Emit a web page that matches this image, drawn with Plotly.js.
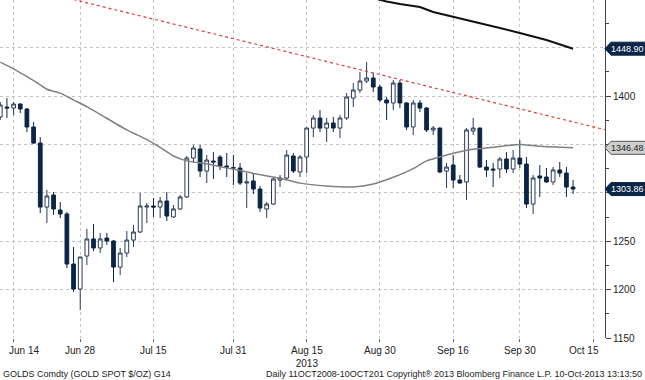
<!DOCTYPE html>
<html>
<head>
<meta charset="utf-8">
<script src="https://cdn.plot.ly/plotly-3.0.1.min.js"></script>
<style>html,body{margin:0;padding:0;background:#fff}#chart{width:645px;height:380px}</style>
</head>
<body>
<div id="chart"></div>
<script>
// ---- Data (GOLDS Comdty daily candles, Jun-Oct 2013) ----
const dates = ["2013-06-12","2013-06-13","2013-06-14","2013-06-17","2013-06-18","2013-06-19","2013-06-20","2013-06-21","2013-06-24","2013-06-25","2013-06-26","2013-06-27","2013-06-28",
"2013-07-01","2013-07-02","2013-07-03","2013-07-04","2013-07-05","2013-07-08","2013-07-09","2013-07-10","2013-07-11","2013-07-12","2013-07-15","2013-07-16","2013-07-17","2013-07-18","2013-07-19","2013-07-22","2013-07-23","2013-07-24","2013-07-25","2013-07-26","2013-07-29","2013-07-30","2013-07-31",
"2013-08-01","2013-08-02","2013-08-05","2013-08-06","2013-08-07","2013-08-08","2013-08-09","2013-08-12","2013-08-13","2013-08-14","2013-08-15","2013-08-16","2013-08-19","2013-08-20","2013-08-21","2013-08-22","2013-08-23","2013-08-26","2013-08-27","2013-08-28","2013-08-29","2013-08-30",
"2013-09-02","2013-09-03","2013-09-04","2013-09-05","2013-09-06","2013-09-09","2013-09-10","2013-09-11","2013-09-12","2013-09-13","2013-09-16","2013-09-17","2013-09-18","2013-09-19","2013-09-20","2013-09-23","2013-09-24","2013-09-25","2013-09-26","2013-09-27","2013-09-30",
"2013-10-01","2013-10-02","2013-10-03","2013-10-04","2013-10-07","2013-10-08","2013-10-09","2013-10-10"];

const open = [1378.3,1388.6,1387.6,1391.7,1386.6,1368.0,1351.4,1285.3,1297.7,1282.2,1278.1,1226.4,1200.6,
1234.7,1252.3,1243.0,1253.3,1250.2,1223.3,1237.8,1251.2,1259.5,1285.3,1286.4,1285.3,1291.5,1275.0,1283.3,1295.7,1335.9,1345.2,1322.5,1332.8,1337.0,1327.7,1326.0,
1325.6,1310.1,1312.2,1303.9,1283.3,1288.4,1313.2,1315.3,1338.0,1321.5,1337.0,1366.9,1377.3,1366.9,1372.1,1366.9,1377.3,1397.9,1406.2,1415.5,1418.6,1409.3,
1395.9,1392.8,1413.4,1392.8,1368.0,1392.8,1387.6,1364.9,1366.9,1322.5,1328.7,1313.2,1311.2,1363.8,1366.9,1326.6,1324.6,1324.6,1334.9,1324.6,1335.9,
1329.7,1288.4,1317.4,1316.3,1311.2,1323.6,1320.4,1306.0];

const high = [1393.8,1397.9,1393.8,1392.8,1387.6,1373.1,1357.6,1302.9,1300.8,1290.5,1280.2,1244.0,1233.7,
1262.6,1267.8,1258.5,1258.5,1251.2,1243.0,1260.5,1266.7,1299.8,1289.5,1294.6,1295.7,1300.8,1287.4,1297.7,1338.0,1349.4,1349.4,1339.0,1342.1,1339.0,1341.1,1339.0,
1330.8,1320.4,1320.4,1307.0,1290.5,1315.3,1318.4,1344.2,1341.1,1339.0,1367.5,1380.4,1385.5,1377.3,1378.3,1380.4,1403.1,1413.4,1424.8,1435.1,1423.8,1411.4,
1399.0,1416.5,1416.5,1393.8,1395.9,1395.9,1388.6,1369.0,1367.5,1330.8,1339.0,1318.4,1366.9,1377.3,1367.5,1333.9,1330.8,1337.0,1342.1,1344.2,1354.5,
1337.0,1318.4,1328.7,1325.6,1326.6,1331.8,1326.6,1313.2];

const low = [1375.2,1377.3,1380.4,1382.4,1362.8,1350.4,1279.1,1268.8,1277.1,1274.0,1222.3,1197.5,1178.9,
1225.4,1239.9,1237.8,1246.1,1207.8,1215.1,1233.7,1244.0,1258.5,1268.8,1275.0,1274.0,1270.9,1274.0,1282.2,1294.6,1330.8,1316.3,1310.1,1314.3,1323.6,1316.3,1308.1,
1308.1,1284.3,1298.8,1280.2,1274.0,1287.4,1306.0,1313.2,1320.4,1316.3,1320.4,1357.6,1362.8,1352.5,1362.8,1356.6,1375.2,1388.6,1403.1,1413.4,1404.1,1393.8,
1375.2,1385.5,1387.6,1364.9,1359.7,1383.5,1362.8,1359.7,1320.4,1305.0,1305.0,1309.5,1292.6,1359.7,1325.6,1316.3,1306.0,1315.3,1320.4,1320.4,1325.6,
1284.3,1278.1,1295.7,1310.1,1308.1,1316.3,1295.7,1298.8];

const close = [1390.7,1387.6,1391.7,1386.6,1368.0,1351.4,1285.3,1296.7,1283.3,1278.1,1226.4,1200.6,1233.7,
1252.3,1243.0,1252.3,1250.2,1223.3,1237.8,1251.2,1259.5,1286.4,1286.4,1285.3,1291.5,1276.0,1283.3,1295.7,1335.9,1346.3,1322.5,1333.9,1331.8,1327.7,1326.6,1325.6,
1310.1,1311.2,1303.9,1284.3,1288.4,1314.3,1315.3,1339.0,1322.5,1337.0,1366.9,1377.3,1366.9,1372.1,1366.9,1377.3,1399.0,1406.2,1415.5,1418.6,1409.3,1395.9,
1392.8,1413.4,1392.8,1368.0,1392.8,1387.6,1364.9,1366.9,1321.5,1326.6,1313.2,1310.1,1364.9,1366.9,1326.6,1323.6,1323.6,1334.9,1324.6,1335.9,1329.7,
1288.4,1315.3,1315.3,1311.2,1323.6,1320.4,1306.0,1303.86];

// Moving average (grey)
const maGreyDates = ["2013-06-12","2013-06-14","2013-06-17","2013-06-19","2013-06-21","2013-06-25","2013-06-27","2013-07-01","2013-07-03","2013-07-09","2013-07-12","2013-07-16","2013-07-18","2013-07-22","2013-07-25","2013-07-29","2013-08-01","2013-08-05","2013-08-09","2013-08-14","2013-08-20","2013-08-26","2013-08-29","2013-09-03","2013-09-06","2013-09-10","2013-09-13","2013-09-18","2013-09-24","2013-09-30","2013-10-03","2013-10-10"];
const maGreyVals  = [1435,1428,1424,1416,1407,1403,1396,1389,1381,1365,1355,1347,1338,1333,1330,1327,1323,1320,1315,1310,1307,1306,1309,1316,1325,1333,1339,1344,1347,1350,1348,1346.48];

// Long moving average (black)
const maBlackDates = ["2013-08-28","2013-08-30","2013-09-02","2013-09-04","2013-09-09","2013-09-11","2013-09-16","2013-09-19","2013-09-25","2013-09-30","2013-10-04","2013-10-10"];
const maBlackVals  = [1503,1499.2,1497.6,1495,1491.9,1486.8,1481.6,1476.4,1470.2,1465.1,1457.8,1448.90];

// Trend line (red dotted) end points
const trendDates = ["2013-06-27","2013-10-17"];
const trendVals  = [1499.7,1364.8];

// Last-value labels on the right axis
const lastVals   = [1448.90, 1346.48, 1303.86];
const lastFill   = ["#0b2547", "#cfcfcf", "#0b2547"];
const lastText   = ["#ffffff", "#222222", "#ffffff"];
const lastBorder = ["#0b2547", "#555555", "#0b2547"];

// Axis ticks (gridline dates and their labels)
const xTickVals  = ["2013-06-14","2013-06-28","2013-07-15","2013-07-31","2013-08-15","2013-08-30","2013-09-16","2013-09-30","2013-10-15"];
const xTickText  = ["Jun 14","Jun 28","Jul 15","Jul 31","Aug 15<br>2013","Aug 30","Sep 16","Sep 30","Oct 15"];
const xLabelShift = [10,0,0,0,0,0,0,0,-9];   // edge labels are nudged inside the chart
const yTickVals = [1150,1200,1250,1300,1350,1400,1450];
const yTickText = ["1150","1200","1250","","","1400",""];

const Y0 = 1150, Y1 = 1499.2;
const FONT = "Liberation Sans, Arial, sans-serif";

const traces = [
  {
    type: "candlestick", x: dates, open: open, high: high, low: low, close: close,
    increasing: {line: {color: "#2b3a55", width: 1}, fillcolor: "#ffffff"},
    decreasing: {line: {color: "#0b2547", width: 1}, fillcolor: "#0b2547"},
    whiskerwidth: 0, showlegend: false, hoverinfo: "skip"
  },
  {type: "scatter", mode: "lines", x: maGreyDates, y: maGreyVals, line: {color: "#808080", width: 1.5, shape: "spline", smoothing: 0.6}, showlegend: false, hoverinfo: "skip"},
  {type: "scatter", mode: "lines", x: maBlackDates, y: maBlackVals, line: {color: "#111111", width: 2}, showlegend: false, hoverinfo: "skip"},
  {type: "scatter", mode: "lines", x: trendDates, y: trendVals, line: {color: "#e03a3a", width: 1.2, dash: "dot"}, showlegend: false, hoverinfo: "skip"}
];

const shapes = lastVals.map((v, i) => ({
  type: "path", xref: "paper", yref: "paper",
  xsizemode: "pixel", ysizemode: "pixel",
  xanchor: 1, yanchor: (v - Y0) / (Y1 - Y0),
  path: "M0,0 L6,6.5 L44,6.5 L44,-6.5 L6,-6.5 Z",
  fillcolor: lastFill[i], line: {color: lastBorder[i], width: 1}, layer: "above"
}));

const annotations = lastVals.map((v, i) => ({
  xref: "paper", yref: "paper", x: 1, y: (v - Y0) / (Y1 - Y0),
  xanchor: "left", yanchor: "middle", xshift: 4, showarrow: false,
  text: v.toFixed(2), font: {family: FONT, size: 9, color: lastText[i]}
}));
// x-axis date labels (drawn as text under each gridline)
xTickVals.forEach((d, i) => {
  annotations.push({xref: "x", yref: "paper", x: d, y: 0, xanchor: "center", yanchor: "top",
    xshift: xLabelShift[i], yshift: -5, showarrow: false, align: "center",
    text: xTickText[i], font: {family: FONT, size: 10, color: "#222"}});
});
annotations.push({xref: "paper", yref: "paper", x: 0, y: 0, xanchor: "left", yanchor: "middle", xshift: 1, yshift: -36, showarrow: false,
  text: "GOLDS Comdty (GOLD SPOT $/OZ) G14", font: {family: FONT, size: 9, color: "#222"}});
annotations.push({xref: "paper", yref: "paper", x: 1, y: 0, xanchor: "right", yanchor: "middle", xshift: 39, yshift: -36, showarrow: false,
  text: "Daily 11OCT2008-10OCT201 Copyright\u00ae 2013 Bloomberg Finance L.P. 10-Oct-2013 13:13:50", font: {family: FONT, size: 9, color: "#222"}});

const layout = {
  width: 645, height: 380,
  margin: {l: 0, r: 40, t: 0, b: 42, pad: 0},
  paper_bgcolor: "#ffffff", plot_bgcolor: "#ffffff",
  font: {family: FONT, size: 10, color: "#222"},
  showlegend: false,
  boxgap: 0.2,
  xaxis: {
    type: "date", range: ["2013-06-11 23:00", "2013-10-16 19:00"],
    rangebreaks: [{bounds: ["sat", "mon"]}],
    rangeslider: {visible: false},
    tickmode: "array", tickvals: xTickVals, showticklabels: false,
    showgrid: true, gridcolor: "#c4c4c4", griddash: "dot", gridwidth: 1,
    ticks: "outside", ticklen: 3, tickcolor: "#666",
    showline: false, zeroline: false
  },
  yaxis: {
    side: "right", range: [Y0, Y1], fixedrange: true,
    tickmode: "array", tickvals: yTickVals, ticktext: yTickText,
    showgrid: true, gridcolor: "#c4c4c4", griddash: "dot", gridwidth: 1,
    ticks: "outside", ticklen: 5, tickcolor: "#444",
    minor: {dtick: 25, tick0: 1150, ticks: "outside", ticklen: 3, tickcolor: "#444", showgrid: false},
    showline: true, linecolor: "#444", linewidth: 1, zeroline: false,
    tickfont: {family: FONT, size: 10, color: "#222"}
  },
  shapes: shapes,
  annotations: annotations
};

Plotly.newPlot("chart", traces, layout, {staticPlot: true, displayModeBar: false});
</script>
</body>
</html>
